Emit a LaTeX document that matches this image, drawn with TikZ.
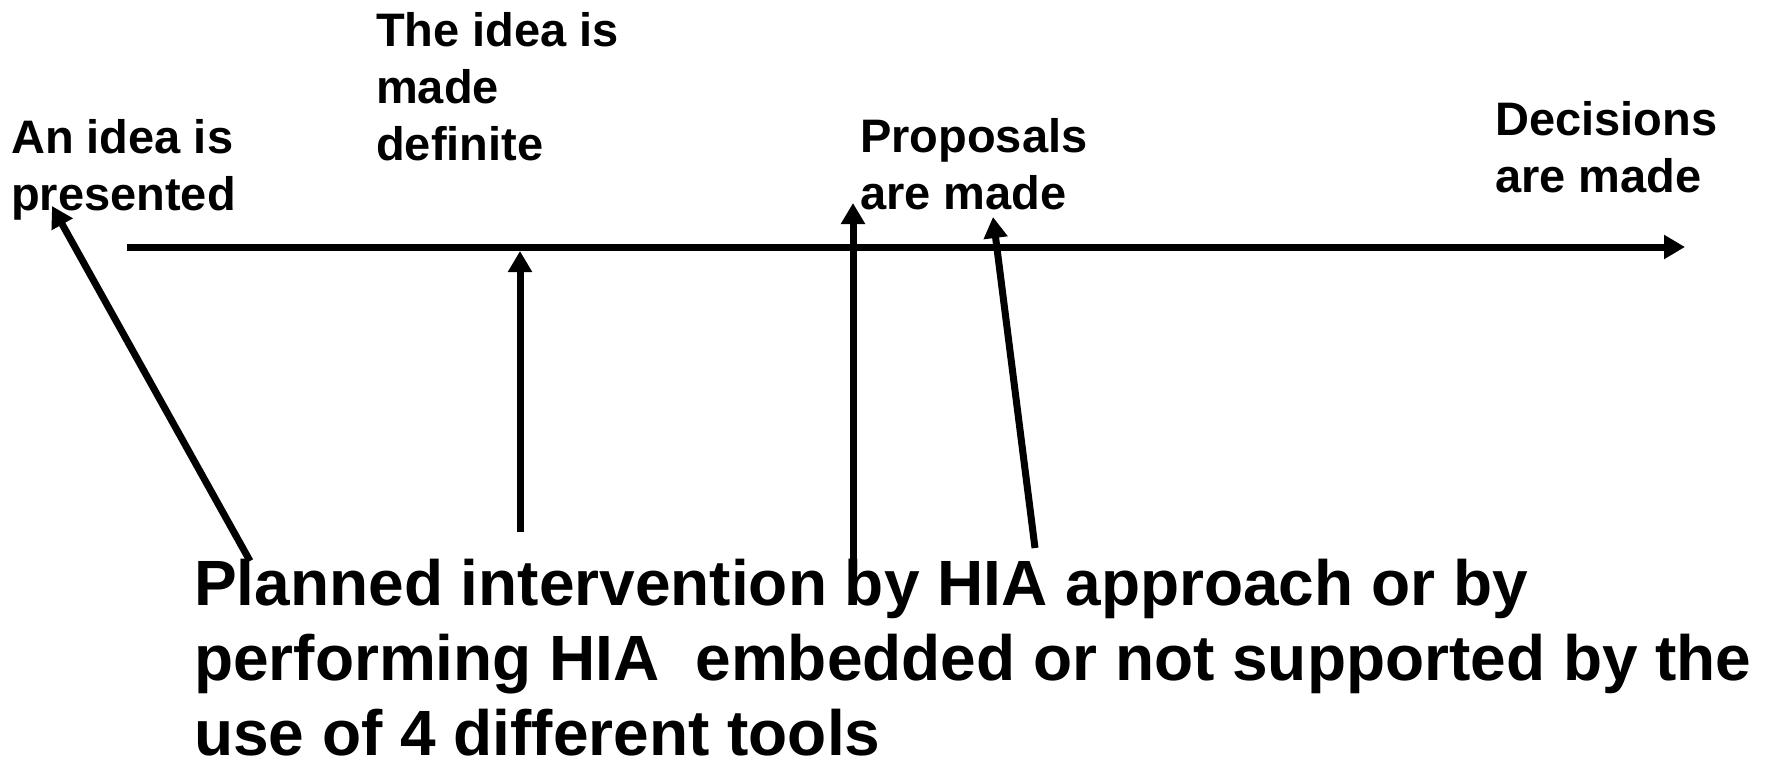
\documentclass[tikz,border=0pt]{standalone}
\usepackage{fontspec}
\setmainfont{Liberation Sans}
\usetikzlibrary{arrows.meta}
\begin{document}
\begin{tikzpicture}[x=1pt,y=-1pt,
  lbl/.style={anchor=north west,inner sep=0pt,align=left,font=\bfseries\fontsize{47}{57}\selectfont},
  big/.style={anchor=north west,inner sep=0pt,align=left,font=\bfseries\fontsize{64}{75}\selectfont},
  arr/.style={line width=7pt,-{Triangle[length=21pt,width=23pt]}}]
\useasboundingbox (0,0) rectangle (1769,762);
\node[lbl] (A) at (11,119) {An idea is\\presented};
\node[lbl] (B) at (376,12) {The idea is\\made\\definite};
\node[lbl] (C) at (860,118) {Proposals\\are made};
\node[lbl] (D) at (1495,101) {Decisions\\are made};
\node[big] (E) at (194,559) {Planned intervention by HIA approach or by\\performing HIA\ \ embedded or not supported by the\\use of 4 different tools};
\coordinate (ls) at (127,247);
\coordinate (le) at (1685,247);
\draw[arr] (ls) -- (le);
\coordinate (a1s) at (250,561);
\coordinate (a1e) at (52,206);
\coordinate (a2s) at (520,532);
\coordinate (a2e) at (520,251);
\coordinate (a3s) at (853,560);
\coordinate (a3e) at (853,203);
\coordinate (a4s) at (1035,548);
\coordinate (a4e) at (993,217);
\draw[arr] (a1s) -- (a1e);
\draw[arr] (a2s) -- (a2e);
\draw[arr] (a3s) -- (a3e);
\draw[arr] (a4s) -- (a4e);
\end{tikzpicture}
\end{document}
